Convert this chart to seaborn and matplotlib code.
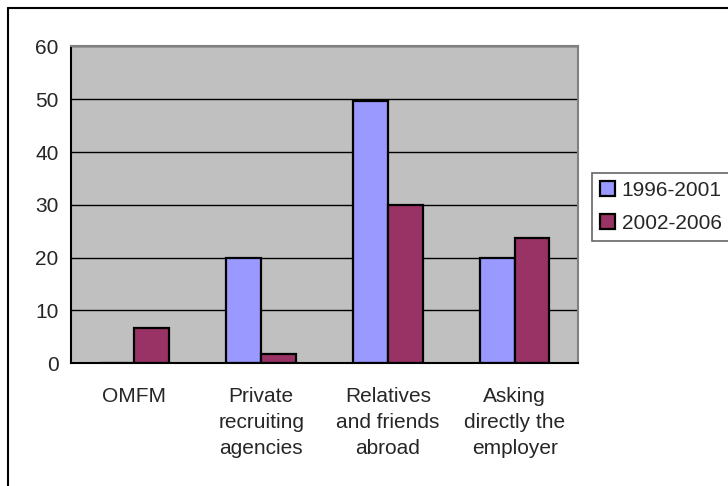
import matplotlib
matplotlib.use("Agg")
import matplotlib.pyplot as plt
import seaborn as sns
import pandas as pd
from matplotlib.lines import Line2D

categories = ["OMFM", "Private\nrecruiting\nagencies", "Relatives\nand friends\nabroad", "Asking\ndirectly the\nemployer"]
series_names = ["1996-2001", "2002-2006"]
values_1996_2001 = [0, 20, 49.6, 20]
values_2002_2006 = [6.7, 1.8, 30, 23.7]
y_ticks = [0, 10, 20, 30, 40, 50, 60]

df = pd.DataFrame({
    "category": categories * 2,
    "period": [series_names[0]] * 4 + [series_names[1]] * 4,
    "value": values_1996_2001 + values_2002_2006,
})

sns.set_style("white")
plt.rcParams["font.family"] = ["Liberation Sans", "DejaVu Sans"]
fs = 15

fig = plt.figure(figsize=(7.28, 4.86), dpi=100)
ax = fig.add_axes([71/728, 1-363/486, (578-71)/728, (363-46.5)/486])
ax.set_facecolor("#C0C0C0")

sns.barplot(data=df, x="category", y="value", hue="period",
            palette=["#9999FF", "#993366"], width=0.55, gap=0,
            edgecolor="black", linewidth=1.6, ax=ax, saturation=1,
            errorbar=None)

ax.set_ylim(0, 60)
ax.set_xlim(-0.5, 3.5)
ax.set_yticks(y_ticks)
ax.yaxis.grid(True, color="black", linewidth=1.0)
ax.set_axisbelow(True)
ax.set_xlabel("")
ax.set_ylabel("")

ax.set_xticks(range(4))
ax.set_xticklabels(categories, fontsize=fs, linespacing=1.48)
ax.tick_params(axis="x", which="major", length=0, pad=17)
ax.set_xticks([-0.5, 0.5, 1.5, 2.5, 3.5], minor=True)
ax.tick_params(axis="x", which="minor", length=6, width=1, color="black", direction="out")
ax.tick_params(axis="y", length=5, width=1, color="black", direction="out", labelsize=fs, pad=4)

for s in ["left", "bottom"]:
    ax.spines[s].set_visible(True)
    ax.spines[s].set_color("black")
    ax.spines[s].set_linewidth(1.5)
for s in ["top", "right"]:
    ax.spines[s].set_visible(True)
    ax.spines[s].set_color("#808080")
    ax.spines[s].set_linewidth(1.5)

handles, labels = ax.get_legend_handles_labels()
if ax.legend_:
    ax.legend_.remove()
leg = fig.legend(handles, labels, loc="upper left",
                 bbox_to_anchor=(592/728, 1-240.7/486, 0.2, (240.7-172.7)/486),
                 mode="expand", fontsize=fs, frameon=True, fancybox=False,
                 handlelength=0.72, handleheight=0.72, handletextpad=0.3,
                 labelspacing=0.65, borderpad=0.4, borderaxespad=0)
leg.get_frame().set_edgecolor("#404040")
leg.get_frame().set_linewidth(1.2)

# outer chart frame (cropped on right/bottom)
fig.add_artist(Line2D([8/728, 8/728], [0, 1-8/486], transform=fig.transFigure, color="black", linewidth=1.5))
fig.add_artist(Line2D([8/728, 1], [1-8/486, 1-8/486], transform=fig.transFigure, color="black", linewidth=1.5))

fig.savefig("out.png", dpi=100)
